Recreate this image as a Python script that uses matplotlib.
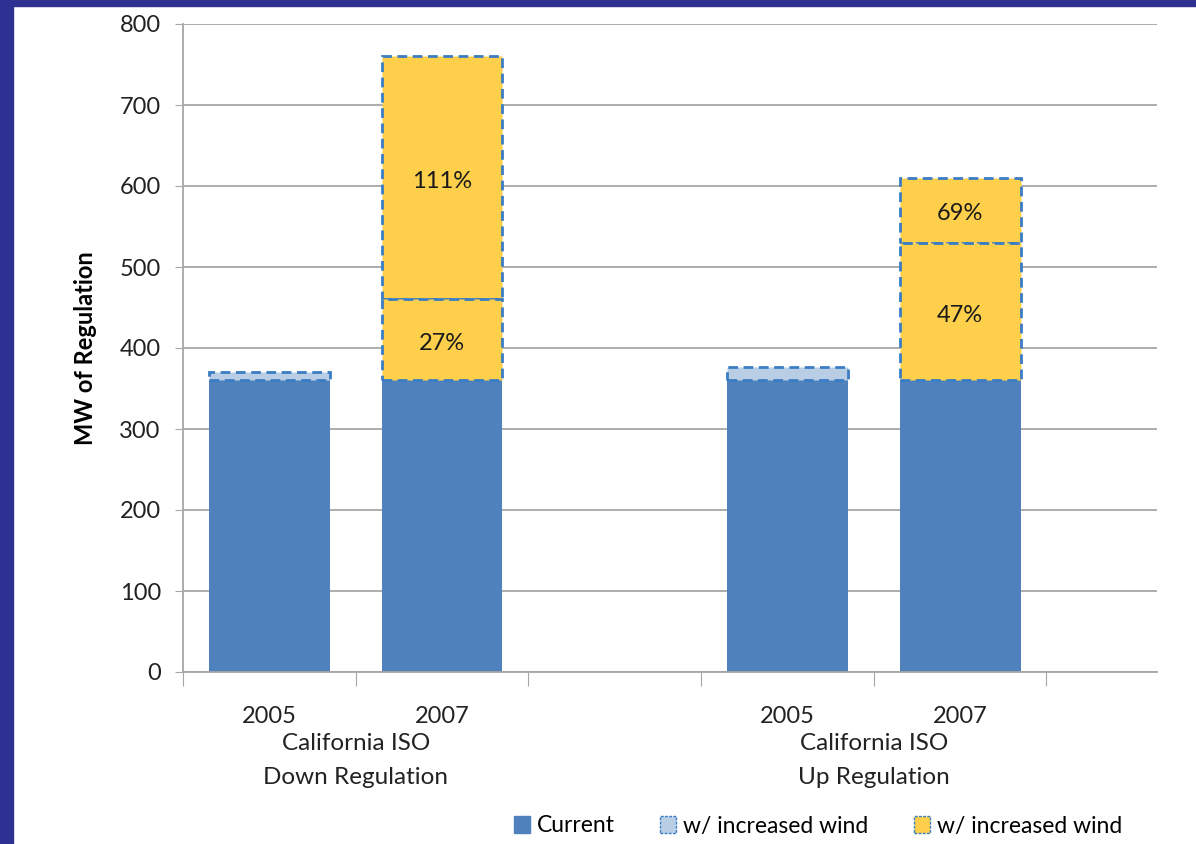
import matplotlib
matplotlib.use("Agg")
import matplotlib.pyplot as plt
from matplotlib.patches import Rectangle, Patch
import numpy as np

plt.rcParams['font.family'] = ['Lato', 'DejaVu Sans']

# ---- data ----
years = ["2005", "2007", "2005", "2007"]
group_labels = ["California ISO", "California ISO"]
group_sub = ["Down Regulation", "Up Regulation"]
slots = [0, 1, 3, 4]                       # category slots (slot 2 is empty)
current = [360, 360, 360, 360]
wind_light_top = [370, None, 376, None]    # light-blue "w/ increased wind" totals
wind_mid_top = [None, 460, None, 530]      # yellow lower segment totals
wind_high_top = [None, 760, None, 610]     # yellow upper segment totals
pct_mid = ["", "27%", "", "47%"]
pct_high = ["", "111%", "", "69%"]
yticks = [0, 100, 200, 300, 400, 500, 600, 700, 800]

C_CUR = "#4F81BD"
C_LIGHT = "#B9CDE5"
C_YEL = "#FDCF4A"
C_EDGE = "#3A7DC4"
NAVY = "#2E3192"
DASH = (0, (3.5, 2))
FS = 17

fig = plt.figure(figsize=(11.96, 8.44), dpi=100)
fig.patch.set_facecolor("white")
# navy frame strips
fig.add_artist(Rectangle((0, 0), 13/1196, 1, transform=fig.transFigure, color=NAVY, zorder=0))
fig.add_artist(Rectangle((0, 1-6/844), 1, 6/844, transform=fig.transFigure, color=NAVY, zorder=0))

ax = fig.add_axes([183/1196, 1-672/844, (1157-183)/1196, (672-24)/844])
ax.set_ylim(0, 800)
ax.set_xlim(-0.5, 5.14)
w = 0.70

for s, c in zip(slots, current):
    ax.bar(s, c, width=w, color=C_CUR, zorder=2)

for s, c, t in zip(slots, current, wind_light_top):
    if t is not None:
        ax.bar(s, t - c, bottom=c, width=w, color=C_LIGHT, edgecolor=C_EDGE,
               linestyle=DASH, linewidth=2, zorder=3)

for s, c, m, h, pm, ph in zip(slots, current, wind_mid_top, wind_high_top, pct_mid, pct_high):
    if m is not None:
        ax.bar(s, h - m, bottom=m, width=w, color=C_YEL, edgecolor=C_EDGE,
               linestyle=DASH, linewidth=2, zorder=3)
        ax.bar(s, m - c, bottom=c, width=w, color=C_YEL, edgecolor=C_EDGE,
               linestyle=DASH, linewidth=2, zorder=4)
        ax.annotate(pm, xy=(s, (c + m) / 2), xytext=(0, -2.5), textcoords="offset points",
                    ha="center", va="center", fontsize=FS, color="#1a1a1a", zorder=5)
        ax.annotate(ph, xy=(s, (m + h) / 2), xytext=(0, -2.5), textcoords="offset points",
                    ha="center", va="center", fontsize=FS, color="#1a1a1a", zorder=5)

ax.set_yticks(yticks)
ax.set_yticklabels([str(v) for v in yticks], fontsize=FS, color="#222222")
ax.yaxis.grid(True, color="#A6A6A6", linewidth=1.3, zorder=0)
ax.set_axisbelow(True)
ax.tick_params(axis="y", length=6, color="#A6A6A6", pad=10)
ax.set_xticks([-0.5, 0.5, 1.5, 2.5, 3.5, 4.5])
ax.set_xticklabels([])
ax.tick_params(axis="x", length=10, color="#A6A6A6")
for sp in ["top", "right"]:
    ax.spines[sp].set_visible(False)
for sp in ["left", "bottom"]:
    ax.spines[sp].set_color("#A6A6A6")
    ax.spines[sp].set_linewidth(1.3)

ax.set_ylabel("MW of Regulation", fontsize=17, fontweight="bold", labelpad=16)

# category labels
tr = ax.get_xaxis_transform()
for s, y in zip(slots, years):
    ax.annotate(y, xy=(s, 0), xycoords=tr, xytext=(0, -32), textcoords="offset points",
                ha="center", va="center", fontsize=FS, color="#222222")
for i, (g, sub) in enumerate(zip(group_labels, group_sub)):
    xc = (slots[2*i] + slots[2*i+1]) / 2
    ax.annotate(g, xy=(xc, 0), xycoords=tr, xytext=(0, -51.5), textcoords="offset points",
                ha="center", va="center", fontsize=17.5, color="#222222")
    ax.annotate(sub, xy=(xc, 0), xycoords=tr, xytext=(0, -76), textcoords="offset points",
                ha="center", va="center", fontsize=17.5, color="#222222")

handles = [
    Patch(facecolor=C_CUR, edgecolor=C_CUR, label="Current"),
    Patch(facecolor=C_LIGHT, edgecolor=C_EDGE, linestyle=(0, (2, 1)), linewidth=1, label="w/ increased wind"),
    Patch(facecolor=C_YEL, edgecolor=C_EDGE, linestyle=(0, (2, 1)), linewidth=1, label="w/ increased wind"),
]
fig.legend(handles=handles, loc="center", bbox_to_anchor=(818/1196, 1-826/844), ncol=3,
           frameon=False, fontsize=16.5, handlelength=0.7, handleheight=0.7,
           handletextpad=0.3, columnspacing=2.0)

fig.savefig("out.png", dpi=100)
